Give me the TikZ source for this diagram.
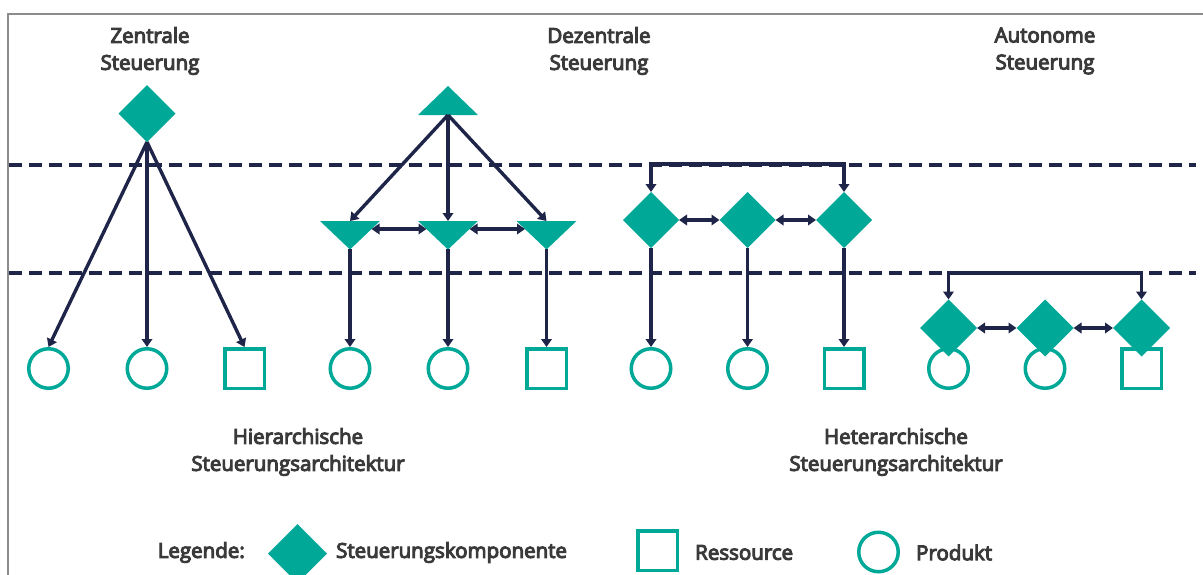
\documentclass[tikz,border=0pt]{standalone}
\usepackage{fontspec}
\newfontfamily\lblfont{Open Sans}[FakeBold=5]
\usetikzlibrary{arrows.meta,shapes.geometric}
\definecolor{tealc}{RGB}{0,168,152}
\definecolor{navy}{RGB}{31,37,72}
\definecolor{txt}{RGB}{58,58,58}
\definecolor{framec}{RGB}{140,140,140}
\begin{document}
\begin{tikzpicture}[x=1pt,y=-1pt,
  dia/.style={diamond,fill=tealc,inner sep=0pt,outer sep=0pt,minimum width=57pt,minimum height=57pt},
  prod/.style={circle,draw=tealc,line width=3.5pt,fill=white,inner sep=0pt,minimum size=39.5pt},
  res/.style={rectangle,draw=tealc,line width=3.5pt,fill=white,inner sep=0pt,minimum size=39.5pt},
  tri/.style={fill=tealc},
  conn/.style={draw=navy,line width=3.4pt,line join=miter},
  arr/.style={conn,-{Triangle[length=8pt,width=10.5pt]}},
  darr/.style={conn,{Triangle[length=8pt,width=10.5pt]}-{Triangle[length=8pt,width=10.5pt]}},
  level/.style={draw=navy,line width=3.4pt,dash pattern=on 13pt off 7pt},
  lbl/.style={text=txt,font=\lblfont\fontsize{20.5}{27}\selectfont,align=center,inner sep=0pt},
  frame/.style={draw=framec,line width=2pt}]
\useasboundingbox (0,0) rectangle (1203,574);

% outer frame (open to the right and bottom)
\draw[frame] (7.5,600) -- (7.5,13.5) -- (1230,13.5);

% level separators
\coordinate (la) at (9,165);
\coordinate (lb) at (1196,165);
\coordinate (lc) at (9,273);
\coordinate (ld) at (1196,273);
\draw[level] (la) -- (lb);
\draw[level] (lc) -- (ld);

% column titles
\node[lbl] (tz) at (150,51) {Zentrale\\Steuerung};
\node[lbl] (td) at (599,51) {Dezentrale\\Steuerung};
\node[lbl] (ta) at (1045,51) {Autonome\\Steuerung};

% ---- central control ----
\node[dia] (z0) at (147,113.5) {};
\node[prod] (z1) at (48.5,368.5) {};
\node[prod] (z2) at (147,368.5) {};
\node[res]  (z3) at (244.5,368.5) {};
\draw[arr] (z0.south) -- (z1.north);
\draw[arr] (z0.south) -- (z2.north);
\draw[arr] (z0.south) -- (z3.north);

% ---- decentral control ----
\fill[tri] (418,115) -- (478,115) -- (448,86) -- cycle;
\coordinate (d0) at (448,115);
\foreach \i/\x in {1/350,2/448,3/546.5}{
  \fill[tri] (\x-30,221) -- (\x+30,221) -- (\x,249.5) -- cycle;
  \coordinate (d\i t) at (\x,221);
  \coordinate (d\i b) at (\x,249);
  \coordinate (d\i l) at (\x-21.5,229);
  \coordinate (d\i r) at (\x+21.5,229);
}
\node[prod] (dp1) at (350,368.5) {};
\node[prod] (dp2) at (448,368.5) {};
\node[res]  (dr3) at (546.5,368.5) {};
\draw[arr] (d0) -- (d1t);
\draw[arr] (d0) -- (d2t);
\draw[arr] (d0) -- (d3t);
\draw[darr] (d1r) -- (d2l);
\draw[darr] (d2r) -- (d3l);
\draw[arr] (d1b) -- (dp1.north);
\draw[arr] (d2b) -- (dp2.north);
\draw[arr] (d3b) -- (dr3.north);

% ---- heterarchical control ----
\node[dia,minimum width=56pt,minimum height=56pt] (h1) at (651,220) {};
\node[dia,minimum width=56pt,minimum height=56pt] (h2) at (747.5,220) {};
\node[dia,minimum width=56pt,minimum height=56pt] (h3) at (844,220) {};
\coordinate (hb1) at (651,164);
\coordinate (hb3) at (844,164);
\draw[darr] (h1.north) -- (hb1) -- (hb3) -- (h3.north);
\draw[darr] (h1.east) -- (h2.west);
\draw[darr] (h2.east) -- (h3.west);
\node[prod] (hp1) at (651,368.5) {};
\node[prod] (hp2) at (747.5,368.5) {};
\node[res]  (hr3) at (844,368.5) {};
\draw[arr] (h1.south) -- (hp1.north);
\draw[arr] (h2.south) -- (hp2.north);
\draw[arr] (h3.south) -- (hr3.north);

% ---- autonomous control ----
\node[prod] (ap1) at (948.5,368.5) {};
\node[prod] (ap2) at (1045,368.5) {};
\node[res]  (ar3) at (1141.5,368.5) {};
\node[dia] (a1) at (948.5,328) {};
\node[dia] (a2) at (1045,328) {};
\node[dia] (a3) at (1141.5,328) {};
\coordinate (ab1) at (948.5,273);
\coordinate (ab3) at (1141.5,273);
\draw[darr] (a1.north) -- (ab1) -- (ab3) -- (a3.north);
\draw[darr] (a1.east) -- (a2.west);
\draw[darr] (a2.east) -- (a3.west);

% architecture labels
\node[lbl] (lh) at (298,452) {Hierarchische\\Steuerungsarchitektur};
\node[lbl] (le) at (896,452) {Heterarchische\\Steuerungsarchitektur};

% legend
\node[lbl,anchor=east] (lg) at (245,552.5) {Legende:};
\node[dia,minimum width=59pt,minimum height=59pt] (lgd) at (297.5,553.5) {};
\node[lbl,anchor=west] (lgdt) at (336,552.5) {Steuerungskomponente};
\node[res] (lgr) at (657.5,550.5) {};
\node[lbl,anchor=west] (lgrt) at (695,552.5) {Ressource};
\node[prod] (lgp) at (878.5,552) {};
\node[lbl,anchor=west] (lgpt) at (916,552.5) {Produkt};
\end{tikzpicture}
\end{document}
